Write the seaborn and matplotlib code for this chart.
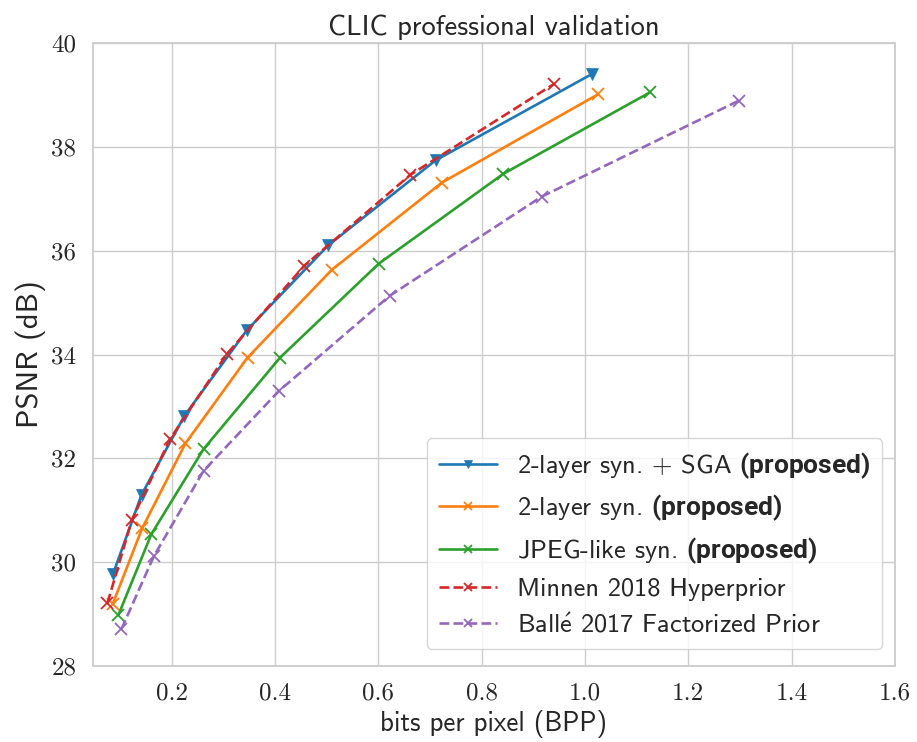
import matplotlib
matplotlib.use("Agg")
import matplotlib.pyplot as plt
import seaborn as sns
import numpy as np

# ---- data ----
labels = [
    r"2-layer syn. $+$ SGA $\mathbf{(proposed)}$",
    r"2-layer syn. $\mathbf{(proposed)}$",
    r"JPEG-like syn. $\mathbf{(proposed)}$",
    "Minnen 2018 Hyperprior",
    r"Ball$\'{e}$ 2017 Factorized Prior",
]
sga_bpp = [0.087, 0.142, 0.225, 0.346, 0.503, 0.711, 1.013]
sga_psnr = [29.78, 31.30, 32.82, 34.47, 36.10, 37.74, 39.40]
two_bpp = [0.086, 0.143, 0.227, 0.347, 0.510, 0.723, 1.025]
two_psnr = [29.19, 30.65, 32.29, 33.94, 35.63, 37.31, 39.01]
jpeg_bpp = [0.097, 0.161, 0.262, 0.410, 0.601, 0.842, 1.126]
jpeg_psnr = [28.98, 30.54, 32.18, 33.94, 35.75, 37.48, 39.05]
minnen_bpp = [0.076, 0.123, 0.197, 0.307, 0.457, 0.662, 0.940]
minnen_psnr = [29.21, 30.81, 32.37, 34.01, 35.71, 37.46, 39.21]
balle_bpp = [0.103, 0.166, 0.262, 0.407, 0.622, 0.916, 1.298]
balle_psnr = [28.71, 30.12, 31.76, 33.29, 35.13, 37.04, 38.89]

x_ticks = [0.2, 0.4, 0.6, 0.8, 1.0, 1.2, 1.4, 1.6]
y_ticks = [28, 30, 32, 34, 36, 38, 40]

sns.set_theme(style="whitegrid")
plt.rcParams['font.family'] = ['cmss10', 'DejaVu Sans']
plt.rcParams['mathtext.fontset'] = 'custom'
plt.rcParams['mathtext.rm'] = 'cmss10'
plt.rcParams['mathtext.it'] = 'cmss10'
plt.rcParams['mathtext.bf'] = 'Roboto:bold'
plt.rcParams['axes.formatter.use_mathtext'] = False

fig = plt.figure(figsize=(9.17, 7.42), dpi=100)
ax = fig.add_axes([93/917, 1-666/742, (895-93)/917, (666-43)/742])

series = [
    (sga_bpp, sga_psnr, "#1f77b4", "v", "-", 8),
    (two_bpp, two_psnr, "#ff7f0e", "x", "-", 8),
    (jpeg_bpp, jpeg_psnr, "#2ca02c", "x", "-", 8),
    (minnen_bpp, minnen_psnr, "#d62728", "x", "--", 8),
    (balle_bpp, balle_psnr, "#9467bd", "x", "--", 8),
]
for (xs, ys, c, m, ls, ms), lab in zip(series, labels):
    sns.lineplot(x=xs, y=ys, ax=ax, color=c, marker=m, linestyle=ls,
                 markersize=ms, linewidth=1.9, sort=False, label=lab,
                 markeredgecolor=c, markeredgewidth=1.3 if m == "x" else 0.5)

ax.set_xlim(0.048, 1.6)
ax.set_ylim(28, 40)
ax.set_xticks(x_ticks)
ax.set_yticks(y_ticks)
ax.set_xticklabels([f"{v:.1f}" for v in x_ticks], fontfamily='cmr10', fontsize=18)
ax.set_yticklabels([f"{v}" for v in y_ticks], fontfamily='cmr10', fontsize=18)
ax.tick_params(axis='both', colors='#262626', pad=6)
ax.set_xlabel("bits per pixel (BPP)", fontsize=19.5, color='#262626')
ax.set_ylabel("PSNR (dB)", fontsize=22, color='#262626')
ax.set_title("CLIC professional validation", fontsize=20.5, color='#262626')
for s in ax.spines.values():
    s.set_color('#cccccc')
    s.set_linewidth(1.3)

leg = ax.legend(loc='lower right', fontsize=19, frameon=True, framealpha=0.8,
                borderpad=0.45, labelspacing=0.45, handlelength=2.2,
                handletextpad=0.75, markerscale=0.8, borderaxespad=0,
                bbox_to_anchor=(0.984, 0.027))
for t in leg.get_texts():
    t.set_color('#262626')

fig.savefig("out.png", dpi=100)
